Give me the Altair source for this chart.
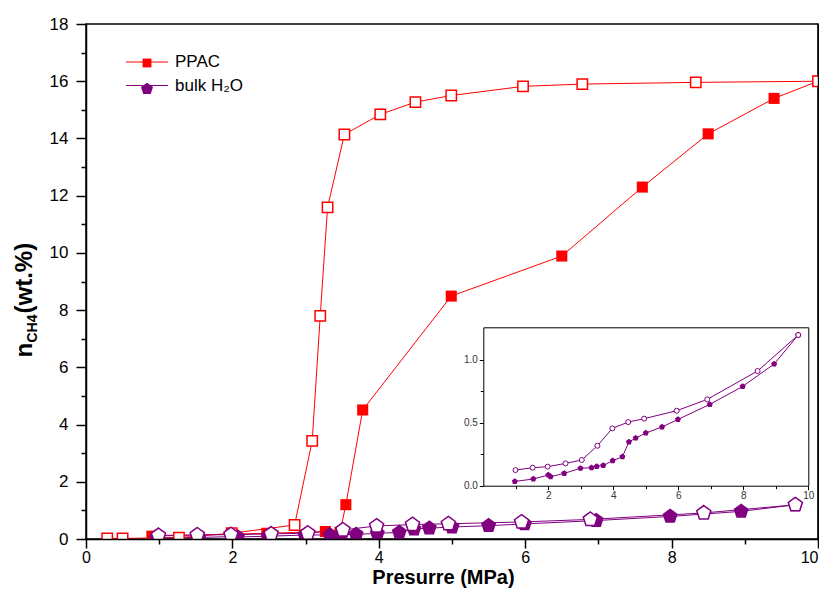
import altair as alt
import pandas as pd

# ---------------- data ----------------
materials = ["PPAC", "bulk H₂O"]

# PPAC, filled squares
ppac_ads_p = [0.90, 2.47, 3.27, 3.47, 3.55, 3.78, 4.99, 6.50, 7.60, 8.50, 9.40, 10.0]
ppac_ads_n = [0.10, 0.20, 0.26, 0.23, 1.20, 4.51, 8.49, 9.89, 12.30, 14.16, 15.40, 16.0]
# PPAC, open squares
ppac_des_p = [0.29, 0.50, 1.27, 1.99, 2.85, 3.09, 3.20, 3.30, 3.53, 4.02, 4.50, 4.99, 5.97, 6.78, 8.33, 10.0]
ppac_des_n = [0.02, 0.02, 0.05, 0.20, 0.49, 3.43, 7.80, 11.59, 14.14, 14.84, 15.27, 15.50, 15.82, 15.90, 15.96, 16.0]
# bulk H2O, filled pentagons
h2o_ads_p = [0.97, 1.54, 2.00, 2.07, 2.49, 2.99, 3.33, 3.49, 3.69, 3.98, 4.28, 4.48, 4.69, 5.00, 5.50, 5.99, 6.97, 7.98, 8.95, 9.69]
h2o_ads_n = [0.034, 0.053, 0.085, 0.071, 0.098, 0.138, 0.143, 0.153, 0.161, 0.198, 0.230, 0.347, 0.378, 0.418, 0.466, 0.526, 0.645, 0.788, 0.966, 1.196]
# bulk H2O, open pentagons
h2o_des_p = [0.99, 1.52, 1.98, 2.53, 3.03, 3.51, 3.97, 4.46, 4.95, 5.95, 6.89, 8.44, 9.69]
h2o_des_n = [0.124, 0.143, 0.151, 0.177, 0.204, 0.317, 0.455, 0.505, 0.532, 0.595, 0.685, 0.910, 1.196]

x_major = [0, 2, 4, 6, 8, 10]
x_minor = [1, 3, 5, 7, 9]
y_major = [0, 2, 4, 6, 8, 10, 12, 14, 16, 18]
y_minor = [1, 3, 5, 7, 9, 11, 13, 15, 17]
y_all = list(range(0, 19))
in_x_major = [2, 4, 6, 8, 10]
in_x_minor = [1, 3, 5, 7, 9]
in_y_major = [0.0, 0.5, 1.0]
in_y_minor = [0.25, 0.75]

rows = []


def add(ps, ns, mat, state):
    for i, (p, n) in enumerate(zip(ps, ns)):
        rows.append(dict(p=p, n=n, material=mat, state=state, series=mat + "-" + state, idx=i))


add(ppac_ads_p, ppac_ads_n, materials[0], "ads")
add(ppac_des_p, ppac_des_n, materials[0], "des")
add(h2o_ads_p, h2o_ads_n, materials[1], "ads")
add(h2o_des_p, h2o_des_n, materials[1], "des")
df = pd.DataFrame(rows)
h2o = df[df["material"] == materials[1]]

# ---------------- styling ----------------
RED = "#ff0000"
PURPLE = "#800080"
FONT = "Liberation Sans"
SQUARE = "M-0.7,-0.7L0.7,-0.7L0.7,0.7L-0.7,0.7Z"
PENT = "M0,-1L0.951,-0.309L0.588,0.809L-0.588,0.809L-0.951,-0.309Z"
LEG_LINE = "M-1.345,0L5.3,0"

W, H = 732, 515
IX0, IX1 = 397.3, 722.3
IY0, IY1 = 461.7, 303.3

xs_main = alt.Scale(domain=[0, 10], nice=False, zero=False)
ys_main = alt.Scale(domain=[0, 18], nice=False, zero=False)
xs_in = alt.Scale(domain=[0, 10], range=[IX0, IX1], nice=False, zero=False)
ys_in = alt.Scale(domain=[0, 1.257], range=[IY0, IY1], nice=False, zero=False)
color_scale = alt.Scale(domain=materials, range=[RED, PURPLE])
shape_scale = alt.Scale(domain=materials, range=[SQUARE, PENT])

base_ax = dict(grid=False, domainColor="black", tickColor="black", labelColor="black",
               labelFont=FONT, titleFont=FONT, titleColor="black", zindex=1)

ax_x_major = alt.Axis(orient="bottom", values=x_major, tickSize=9, tickWidth=1.5, domainWidth=1.5,
                      labelFontSize=16, labelPadding=1, labelFlush=False, labelOverlap=False,
                      labelAlign=alt.ExprRef(expr="datum.value == 10 ? 'right' : 'center'"),
                      title="Presurre (MPa)", titleFontSize=20, titleFontWeight="bold",
                      titleX=357, titleY=44, titleAlign="center", titleBaseline="alphabetic", **base_ax)
ax_y_major = alt.Axis(orient="left", values=y_major, tickSize=10, tickWidth=1.5, domainWidth=1.5,
                      labelFontSize=17, labelPadding=8, labelOverlap=False,
                      title="(wt.%)", titleFontSize=24, titleFontWeight="bold", titleAngle=270,
                      titleAlign="left", titleBaseline="alphabetic", titleX=-55, titleY=289, **base_ax)
ax_x_minor = alt.Axis(orient="bottom", values=x_minor, tickSize=5, tickWidth=1.5, labels=False, domain=False,
                      title="n", titleFontSize=24, titleFontWeight="bold", titleAngle=270,
                      titleAlign="left", titleBaseline="alphabetic", titleX=-55, titleY=-182, **base_ax)
ax_y_minor = alt.Axis(orient="left", values=y_minor, tickSize=5, tickWidth=1.5, labels=False, domain=False,
                      title="CH4", titleFontSize=14, titleFontWeight="bold", titleAngle=270,
                      titleAlign="left", titleBaseline="alphabetic", titleX=-50, titleY=318, **base_ax)
ax_y_right = alt.Axis(orient="right", values=y_all, tickSize=3, tickWidth=1, labels=False, domainWidth=1.5,
                      title=None, **base_ax)

in_ax = dict(grid=False, domainColor="black", tickColor="black", labelColor="#333333",
             labelFont=FONT, title=None)
ax_in_x = alt.Axis(orient="bottom", offset=IY0 - H, values=in_x_major, tickSize=4, labelFontSize=10,
                   labelPadding=1, labelFlush=False, domainWidth=1, **in_ax)
ax_in_y = alt.Axis(orient="left", offset=-IX0, values=in_y_major, format=".1f", tickSize=4,
                   labelFontSize=10, labelPadding=2, domainWidth=1, **in_ax)
ax_in_x_minor = alt.Axis(orient="bottom", offset=IY0 - H, values=in_x_minor, tickSize=3, labels=False,
                         domain=False, **in_ax)
ax_in_y_minor = alt.Axis(orient="left", offset=-IX0, values=in_y_minor, tickSize=3, labels=False,
                         domain=False, **in_ax)
ax_in_top = alt.Axis(orient="top", offset=-IY1, ticks=False, labels=False, domainWidth=1, **in_ax)
ax_in_right = alt.Axis(orient="right", offset=-(W - IX1), ticks=False, labels=False, domainWidth=1, **in_ax)

leg_line = alt.Legend(orient="none", legendX=40, legendY=29.5, title=None, symbolType=LEG_LINE,
                      symbolSize=160, symbolStrokeWidth=1, labelFontSize=17, labelFont=FONT,
                      labelColor="black", labelOffset=32, rowPadding=5.5, padding=0)
leg_pts = alt.Legend(orient="none", legendX=52.5, legendY=30.5, title=None, symbolSize=160,
                     symbolStrokeWidth=0, labelFontSize=17, labelFont=FONT, labelExpr="''",
                     labelOffset=6, rowPadding=8, padding=0)

# ---------------- main plot ----------------
line_main = alt.Chart(df).mark_line(strokeWidth=1, clip=True).encode(
    x=alt.X("p:Q", scale=xs_main, axis=ax_x_major),
    y=alt.Y("n:Q", scale=ys_main, axis=ax_y_major),
    color=alt.Color("material:N", scale=color_scale, legend=leg_line),
    detail="series:N",
    order="idx:Q",
)

pts_filled = alt.Chart(df).transform_filter(alt.datum.state == "ads").mark_point(
    filled=True, size=250, opacity=1, clip=True
).encode(
    x=alt.X("p:Q", scale=xs_main, axis=ax_x_minor),
    y=alt.Y("n:Q", scale=ys_main, axis=ax_y_minor),
    color=alt.Color("material:N", scale=color_scale, legend=leg_pts),
    shape=alt.Shape("material:N", scale=shape_scale, legend=leg_pts),
)

pts_open = alt.Chart(df).transform_filter(alt.datum.state == "des").mark_point(
    filled=True, fill="white", size=220, strokeWidth=1.5, opacity=1, clip=True
).encode(
    x=alt.X("p:Q", scale=xs_main, axis=None),
    y=alt.Y("n:Q", scale=ys_main, axis=ax_y_right),
    stroke=alt.Stroke("material:N", scale=color_scale, legend=None),
    shape=alt.Shape("material:N", scale=shape_scale, legend=None),
)

# ---------------- inset ----------------
inset_line = alt.Chart(h2o).mark_line(strokeWidth=1, color=PURPLE).encode(
    x=alt.X("p:Q", scale=xs_in, axis=ax_in_x),
    y=alt.Y("n:Q", scale=ys_in, axis=ax_in_y),
    detail="series:N",
    order="idx:Q",
)
inset_filled = alt.Chart(h2o).transform_filter(alt.datum.state == "ads").mark_point(
    filled=True, shape=PENT, size=40, color=PURPLE, opacity=1
).encode(
    x=alt.X("p:Q", scale=xs_in, axis=ax_in_x_minor),
    y=alt.Y("n:Q", scale=ys_in, axis=ax_in_y_minor),
)
inset_open = alt.Chart(h2o).transform_filter(alt.datum.state == "des").mark_point(
    filled=True, shape="circle", size=25, fill="white", stroke=PURPLE, strokeWidth=1, opacity=1
).encode(
    x=alt.X("p:Q", scale=xs_in, axis=ax_in_top),
    y=alt.Y("n:Q", scale=ys_in, axis=ax_in_right),
)

chart = alt.layer(
    line_main, pts_filled, pts_open, inset_line, inset_filled, inset_open
).resolve_scale(
    x="independent", y="independent"
).resolve_legend(
    color="independent", shape="independent"
).properties(
    width=W, height=H,
    padding={"left": 78, "top": 16, "right": 1, "bottom": 49},
    autosize=alt.AutoSizeParams(type="none"),
).configure(
    font=FONT
).configure_view(
    stroke="black", strokeWidth=1.5
)

chart.save("out.html", embed_options={"renderer": "svg", "actions": False})
